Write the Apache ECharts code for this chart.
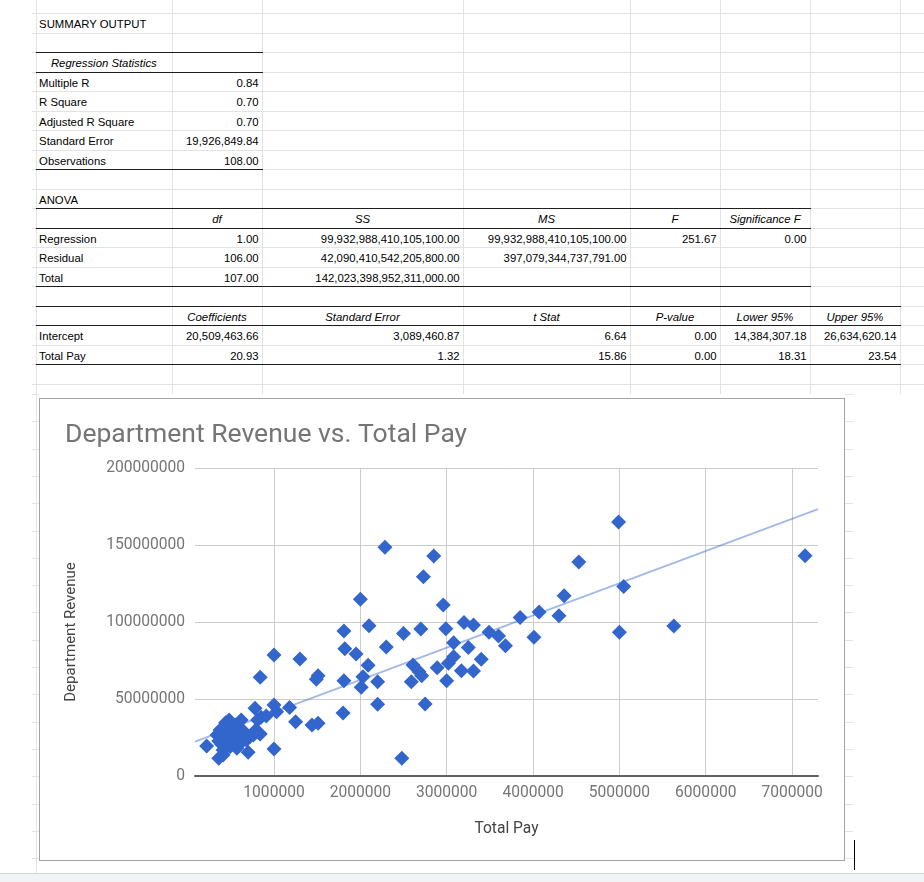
<!DOCTYPE html>
<html>
<head>
<meta charset="utf-8">
<script src="https://cdn.jsdelivr.net/npm/echarts@6/dist/echarts.min.js"></script>
<style>
  html, body { margin: 0; padding: 0; width: 924px; height: 882px; overflow: hidden; background: #fff; }
  #sheet { position: absolute; left: 0; top: 0; width: 924px; height: 882px; }
  .hl { position: absolute; height: 1px; background: #e2e3e3; }
  .vl { position: absolute; width: 1px; background: #e2e3e3; }
  .dk { position: absolute; height: 1px; background: #1f1f1f; }
  .cell { position: absolute; height: 19.5px; box-sizing: border-box; padding: 0 3.4px 1.6px 3.4px;
          font-family: "Liberation Sans", Arial, sans-serif; font-size: 11.35px; line-height: 13px; color: #000;
          display: flex; align-items: flex-end; white-space: nowrap; overflow: visible; }
  .r { justify-content: flex-end; }
  .c { justify-content: center; font-style: italic; }
  #box { position: absolute; left: 38.5px; top: 397.5px; width: 806.5px; height: 463px; box-sizing: border-box;
         border: 1.5px solid #a3a3a3; background: #fff; }
  #chart { position: absolute; left: 0; top: 0; width: 924px; height: 882px; }
  #bar { position: absolute; left: 0; top: 873px; width: 924px; height: 9px; background: #f1f3f4; border-top: 1px solid #d6d6d6; }
  #cursor { position: absolute; left: 854px; top: 840px; width: 1px; height: 30px; background: #000; }
</style>
</head>
<body>
<div id="sheet"></div>
<div id="box"></div>
<div id="chart"></div>
<div id="bar"></div>
<div id="cursor"></div>
<script>
// ---------- Spreadsheet content (regression summary) ----------
const summaryTitle = "SUMMARY OUTPUT";
const regressionStatLabels = ["Multiple R", "R Square", "Adjusted R Square", "Standard Error", "Observations"];
const regressionStatValues = ["0.84", "0.70", "0.70", "19,926,849.84", "108.00"];
const anovaHeaders = ["", "df", "SS", "MS", "F", "Significance F"];
const anovaRows = [
  ["Regression", "1.00", "99,932,988,410,105,100.00", "99,932,988,410,105,100.00", "251.67", "0.00"],
  ["Residual", "106.00", "42,090,410,542,205,800.00", "397,079,344,737,791.00", "", ""],
  ["Total", "107.00", "142,023,398,952,311,000.00", "", "", ""]
];
const coefHeaders = ["", "Coefficients", "Standard Error", "t Stat", "P-value", "Lower 95%", "Upper 95%"];
const coefRows = [
  ["Intercept", "20,509,463.66", "3,089,460.87", "6.64", "0.00", "14,384,307.18", "26,634,620.14"],
  ["Total Pay", "20.93", "1.32", "15.86", "0.00", "18.31", "23.54"]
];

// ---------- Chart data ----------
const chartTitle = "Department Revenue vs. Total Pay";
const xAxisTitle = "Total Pay";
const yAxisTitle = "Department Revenue";
const xTickValues = [1000000, 2000000, 3000000, 4000000, 5000000, 6000000, 7000000];
const yTickValues = [0, 50000000, 100000000, 150000000, 200000000];
// [Total Pay, Department Revenue]
const observations = [
  [4990000, 165000000], [7150000, 143000000], [4530000, 139000000], [5050000, 123000000],
  [4360000, 117000000], [4070000, 106500000], [3850000, 103000000], [4300000, 104000000],
  [3310000, 98000000], [3490000, 93300000], [3600000, 90900000], [3680000, 84600000],
  [4010000, 90100000], [5000000, 93300000], [5630000, 97400000], [3250000, 83500000],
  [3400000, 75800000], [3310000, 68200000], [2285000, 148500000], [2850000, 142900000],
  [2730000, 129400000], [2000000, 114700000], [2960000, 111000000], [2100000, 97600000],
  [1810000, 94200000], [2500000, 92600000], [2700000, 95500000], [2990000, 95600000],
  [3200000, 99600000], [3080000, 86600000], [2300000, 83800000], [1820000, 82700000],
  [1950000, 79200000], [2090000, 71900000], [2610000, 72100000], [2680000, 67700000],
  [2710000, 65100000], [2890000, 70300000], [3020000, 73200000], [3080000, 77500000],
  [3000000, 61900000], [3170000, 68400000], [2590000, 61200000], [2030000, 64500000],
  [2010000, 57600000], [2200000, 61200000], [1810000, 61900000], [1510000, 65100000],
  [1490000, 62800000], [2200000, 46600000], [2750000, 46800000], [1800000, 40900000],
  [2480000, 11500000], [1440000, 33100000], [1510000, 34200000], [1000000, 78600000],
  [1300000, 76000000], [840000, 64100000], [1000000, 46100000], [1030000, 41800000],
  [1180000, 44400000], [1250000, 35300000], [1000000, 17500000], [780000, 44000000],
  [850000, 38100000], [910000, 39000000], [810000, 36400000], [830000, 27700000],
  [760000, 26600000], [680000, 23400000], [700000, 15400000], [620000, 36400000],
  [480000, 36400000], [610000, 26600000], [220000, 19500000], [360000, 11500000],
  [410000, 13600000], [790000, 29900000], [840000, 27300000], [720000, 25500000],
  [375000, 29900000], [340000, 26600000], [410000, 23400000], [530000, 25500000],
  [610000, 21200000], [490000, 19000000], [450000, 32000000], [550000, 33100000],
  [410000, 16900000], [570000, 18000000], [380000, 24500000], [420000, 28200000],
  [460000, 27000000], [500000, 30500000], [520000, 22400000], [440000, 21500000],
  [390000, 20800000], [480000, 24800000], [560000, 28400000], [580000, 24000000],
  [470000, 30000000], [430000, 26000000], [360000, 22700000], [540000, 20500000],
  [600000, 31000000], [650000, 28900000], [510000, 27600000], [440000, 34500000]
];
// Trendline end points (spans the x-axis range)
const trendline = [[85000, 22300000], [7300000, 173300000]];

// ---------- Build spreadsheet ----------
const sheet = document.getElementById('sheet');
const colX = [35.7, 172, 262, 463, 630, 720, 810, 900];
const rowTop0 = 13.3, rowH = 19.5;
function add(cls, style, text) {
  const d = document.createElement('div');
  d.className = cls;
  Object.assign(d.style, style);
  if (text !== undefined) d.textContent = text;
  sheet.appendChild(d);
  return d;
}
for (let k = -1; k <= 19; k++) {
  const y = rowTop0 + rowH * k;
  if (y >= 0) add('hl', { left: '32px', top: y + 'px', width: '892px' });
}
colX.forEach(x => add('vl', { left: x + 'px', top: '0px', height: '394px' }));
add('vl', { left: '35.7px', top: '394px', height: '479px' });
for (let k = 0; k < 18; k++) {
  const y = 394 + 27.3 * k;
  add('hl', { left: '32px', top: y + 'px', width: '7px' });
  add('hl', { left: '845px', top: y + 'px', width: '8px' });
}
function rowY(k) { return rowTop0 + rowH * k; }
function cell(k, col, text, cls) {
  add('cell ' + (cls || ''), { left: colX[col] + 'px', top: rowY(k) + 'px', width: (colX[col + 1] - colX[col]) + 'px' }, text);
}
function dark(k, c0, c1) {
  add('dk', { left: colX[c0] + 'px', top: rowY(k) + 'px', width: (colX[c1] - colX[c0] + 1) + 'px' });
}
cell(0, 0, summaryTitle);
cell(2, 0, "Regression Statistics", 'c');
regressionStatLabels.forEach((t, i) => { cell(3 + i, 0, t); cell(3 + i, 1, regressionStatValues[i], 'r'); });
dark(2, 0, 2); dark(3, 0, 2); dark(8, 0, 2);
cell(9, 0, "ANOVA");
anovaHeaders.forEach((t, i) => { if (t) cell(10, i, t, 'c'); });
anovaRows.forEach((row, r) => row.forEach((t, i) => { if (t) cell(11 + r, i, t, i === 0 ? '' : 'r'); }));
dark(10, 0, 6); dark(11, 0, 6); dark(14, 0, 6);
coefHeaders.forEach((t, i) => { if (t) cell(15, i, t, 'c'); });
coefRows.forEach((row, r) => row.forEach((t, i) => { if (t) cell(16 + r, i, t, i === 0 ? '' : 'r'); }));
dark(15, 0, 7); dark(16, 0, 7); dark(18, 0, 7);

// ---------- Chart ----------
const chart = echarts.init(document.getElementById('chart'), null, { renderer: 'canvas' });
const labelStyle = { fontFamily: 'Roboto', fontSize: 15.6, color: '#757575' };
chart.setOption({
  animation: false,
  title: {
    text: chartTitle, left: 60, top: 417,
    textStyle: { fontFamily: 'Roboto', fontSize: 26.5, fontWeight: 'normal', color: '#757575' }
  },
  grid: { left: 195, top: 468, width: 623, height: 308, containLabel: false },
  xAxis: {
    type: 'value', min: 85000, max: 7300000,
    name: xAxisTitle, nameLocation: 'middle', nameGap: 45,
    nameTextStyle: { fontFamily: 'Roboto', fontSize: 15.6, color: '#444' },
    axisLine: { show: true, onZero: true, lineStyle: { color: '#616161', width: 2 } },
    axisTick: { show: false, customValues: xTickValues },
    axisLabel: { customValues: xTickValues, margin: 9, formatter: v => String(v), ...labelStyle },
    splitLine: { show: true, lineStyle: { color: '#cccccc', width: 1 } }
  },
  yAxis: {
    type: 'value', min: 0, max: 200000000, interval: 50000000,
    name: yAxisTitle, nameLocation: 'middle', nameGap: 116,
    nameTextStyle: { fontFamily: 'Roboto', fontSize: 15, color: '#444', padding: [0, 20, 0, 0] },
    axisLine: { show: false },
    axisTick: { show: false },
    axisLabel: { margin: 10, formatter: v => String(v), ...labelStyle },
    splitLine: { show: true, lineStyle: { color: '#cccccc', width: 1 } }
  },
  series: [
    {
      type: 'scatter', data: observations, symbol: 'diamond', symbolSize: 15,
      itemStyle: { color: '#3366cc', opacity: 1 }, z: 2, silent: true
    },
    {
      type: 'line', data: trendline, showSymbol: false, silent: true, z: 3,
      lineStyle: { color: '#3366cc', width: 2, opacity: 0.45 }
    }
  ]
});
</script>
</body>
</html>
